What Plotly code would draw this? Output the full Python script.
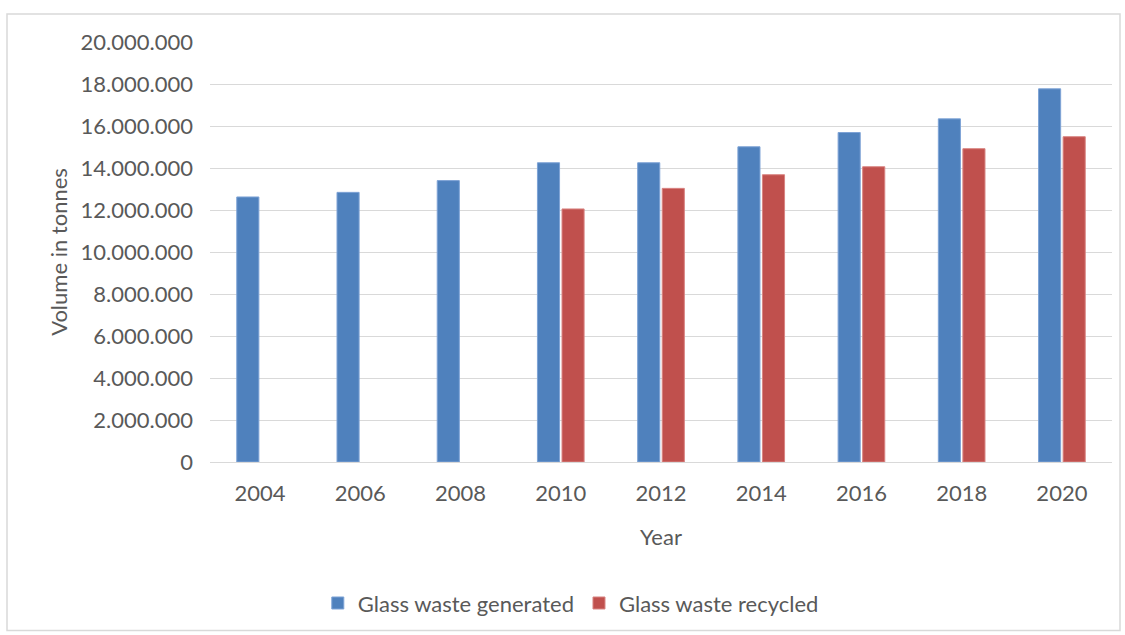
import plotly.graph_objects as go

years = ["2004", "2006", "2008", "2010", "2012", "2014", "2016", "2018", "2020"]
generated = [12620000, 12840000, 13400000, 14250000, 14250000, 15010000, 15690000, 16340000, 17770000]
recycled = [None, None, None, 12050000, 13030000, 13680000, 14060000, 14920000, 15490000]
y_ticks = list(range(0, 20000001, 2000000))
y_tick_labels = [f"{v:,}".replace(",", ".") for v in y_ticks]

FONT = "Lato, Liberation Sans, sans-serif"
GRAY = "#595959"
FS = 22

fig = go.Figure()
fig.add_trace(go.Bar(x=years, y=generated, name="Glass waste generated",
                     marker=dict(color="#4f81bd", line=dict(color="#7ea3d6", width=1))))
fig.add_trace(go.Bar(x=years, y=recycled, name="Glass waste recycled",
                     marker=dict(color="#c0504d", line=dict(color="#d98482", width=1))))

L, R, T, B = 210, 13, 42, 172
W, H = 1125, 635
pw, ph = W - L - R, H - T - B

fig.update_layout(
    width=W, height=H,
    margin=dict(l=L, r=R, t=T, b=B),
    paper_bgcolor="white", plot_bgcolor="white",
    barmode="group", bargap=0.51, bargroupgap=0.1,
    font=dict(family=FONT, color=GRAY, size=FS),
    showlegend=True,
    legend=dict(orientation="h", x=0.40, xanchor="center", y=-0.333, yanchor="middle",
                font=dict(size=FS, color=GRAY), itemwidth=30),
    xaxis=dict(type="category", showgrid=False, showline=True, linecolor="#d9d9d9", linewidth=1,
               ticks="", ticklabelstandoff=12, tickfont=dict(size=FS, color=GRAY),
               title=dict(text="Year", font=dict(size=FS, color=GRAY), standoff=24)),
    yaxis=dict(range=[0, 20000000], tickvals=y_ticks, ticktext=y_tick_labels,
               showgrid=True, gridcolor="#d9d9d9", gridwidth=1, zeroline=False, showline=False,
               ticks="", ticklabelstandoff=16, tickfont=dict(size=FS, color=GRAY),
               title=dict(text="Volume in tonnes", font=dict(size=FS, color=GRAY), standoff=6)),
    shapes=[dict(type="rect", xref="paper", yref="paper",
                 x0=(7 - L) / pw, x1=(1120 - L) / pw,
                 y0=(H - B - 632) / ph, y1=(H - B - 14) / ph,
                 line=dict(color="#d9d9d9", width=1.5), fillcolor="rgba(0,0,0,0)", layer="below")],
)

fig.write_html("out.html")
